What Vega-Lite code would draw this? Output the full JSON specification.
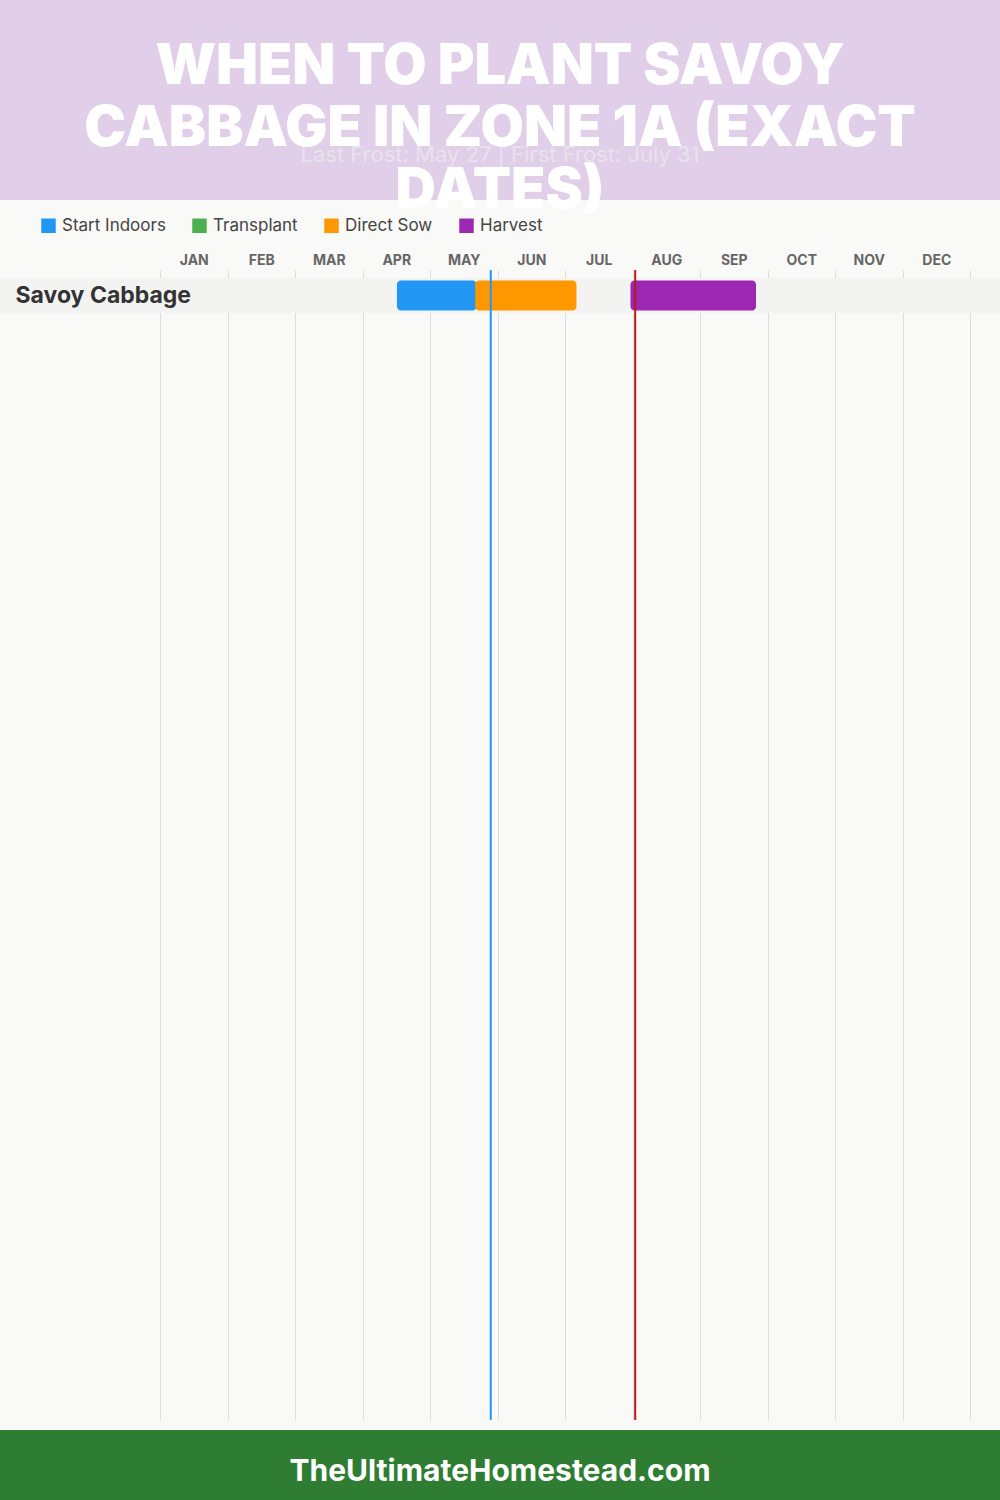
{
  "$schema": "https://vega.github.io/schema/vega-lite/v6.json",
  "background": "#f9f9f7",
  "padding": 0,
  "spacing": 10,
  "bounds": "flush",
  "config": {"view": {"stroke": null}, "font": "Inter"},
  "vconcat": [
    {
      "width": 1000,
      "height": 200,
      "view": {"fill": "#e1cfea", "stroke": null},
      "title": {
        "text": ["WHEN TO PLANT SAVOY", "CABBAGE IN ZONE 1A (EXACT", "DATES)"],
        "orient": "top",
        "anchor": "middle",
        "frame": "group",
        "offset": -220,
        "baseline": "top",
        "lineHeight": 62,
        "font": "Inter",
        "fontSize": 56,
        "fontWeight": 900,
        "color": "#ffffff"
      },
      "data": {"values": [{"note": "Last Frost: May 27 | First Frost: July 31"}]},
      "mark": {"type": "text", "dy": 55, "baseline": "middle", "fontSize": 22, "color": "#e8e2ea", "font": "Inter"},
      "encoding": {"text": {"field": "note", "type": "nominal"}}
    },
    {
      "width": 1000,
      "height": 50,
      "data": {"values": [{"note": ""}]},
      "mark": {"type": "text"},
      "encoding": {"text": {"field": "note", "type": "nominal"}}
    },
    {
      "width": 1000,
      "height": 1150,
      "resolve": {"axis": {"x": "independent"}},
      "layer": [
        {
          "data": {"values": [{"crop": "Savoy Cabbage"}]},
          "mark": {"type": "rect", "color": "#f3f3f2"},
          "encoding": {
            "y": {
              "field": "crop",
              "type": "nominal",
              "scale": {"range": [8, 43], "paddingInner": 0, "paddingOuter": 0},
              "axis": {
                "orient": "left",
                "title": null,
                "labelAlign": "left",
                "labelPadding": -15,
                "ticks": false,
                "tickSize": 0,
                "domain": false,
                "grid": false,
                "labelFont": "Inter",
                "labelFontSize": 23,
                "labelFontWeight": "bold",
                "labelColor": "#333333",
                "labelLimit": 300,
                "zindex": 1
              }
            }
          }
        },
        {
          "data": {"values": [
            {"crop": "Savoy Cabbage", "stage": "Start Indoors", "start": 3.51, "end": 4.69},
            {"crop": "Savoy Cabbage", "stage": "Direct Sow", "start": 4.67, "end": 6.17},
            {"crop": "Savoy Cabbage", "stage": "Harvest", "start": 6.97, "end": 8.83}
          ]},
          "mark": {"type": "bar", "size": 30, "cornerRadius": 4},
          "encoding": {
            "y": {"field": "crop", "type": "nominal"},
            "x": {
              "field": "start",
              "type": "quantitative",
              "scale": {"domain": [-2.37037, 12.44444], "nice": false, "zero": false},
              "axis": {
                "orient": "top",
                "values": [0.5, 1.5, 2.5, 3.5, 4.5, 5.5, 6.5, 7.5, 8.5, 9.5, 10.5, 11.5],
                "labelExpr": "['JAN','FEB','MAR','APR','MAY','JUN','JUL','AUG','SEP','OCT','NOV','DEC'][floor(datum.value)]",
                "grid": false,
                "ticks": false,
                "tickSize": 0,
                "domain": false,
                "title": null,
                "labelFont": "Inter",
                "labelFontSize": 14,
                "labelFontWeight": "bold",
                "labelColor": "#666666",
                "labelPadding": 6,
                "labelBaseline": "alphabetic",
                "labelFlush": false,
                "labelOverlap": false,
                "zindex": 1
              }
            },
            "x2": {"field": "end"},
            "color": {
              "field": "stage",
              "type": "nominal",
              "scale": {
                "domain": ["Start Indoors", "Transplant", "Direct Sow", "Harvest"],
                "range": ["#2196f3", "#4caf50", "#ff9800", "#9c27b0"]
              },
              "legend": {
                "orient": "none",
                "legendX": 40,
                "legendY": 217,
                "direction": "horizontal",
                "title": null,
                "symbolType": "square",
                "symbolSize": 210,
                "symbolStrokeWidth": 0,
                "symbolOpacity": 1,
                "labelFont": "Inter",
                "labelFontSize": 17,
                "labelColor": "#444444",
                "labelOffset": 5,
                "columnPadding": 25,
                "padding": 0,
                "labelLimit": 200
              }
            }
          }
        },
        {
          "data": {"values": [{"event": "Last Frost", "month": 4.9}]},
          "mark": {"type": "rule", "color": "#2196f3", "strokeWidth": 2},
          "encoding": {
            "x": {
              "field": "month",
              "type": "quantitative",
              "axis": {
                "orient": "bottom",
                "values": [0, 1, 2, 3, 4, 5, 6, 7, 8, 9, 10, 11, 12],
                "grid": true,
                "gridColor": "#dddddd",
                "gridWidth": 1,
                "labels": false,
                "ticks": false,
                "tickSize": 0,
                "domain": false,
                "title": null,
                "zindex": 0
              }
            }
          }
        },
        {
          "data": {"values": [{"event": "First Frost", "month": 7.04}]},
          "mark": {"type": "rule", "color": "#b71c1c", "strokeWidth": 2},
          "encoding": {"x": {"field": "month", "type": "quantitative", "axis": null}}
        }
      ]
    },
    {
      "width": 1000,
      "height": 70,
      "view": {"fill": "#2e7d32", "stroke": null},
      "data": {"values": [{"site": "TheUltimateHomestead.com"}]},
      "mark": {"type": "text", "font": "Inter", "fontSize": 30, "fontWeight": "bold", "color": "#ffffff", "baseline": "middle", "dy": 7},
      "encoding": {"text": {"field": "site", "type": "nominal"}}
    }
  ]
}
